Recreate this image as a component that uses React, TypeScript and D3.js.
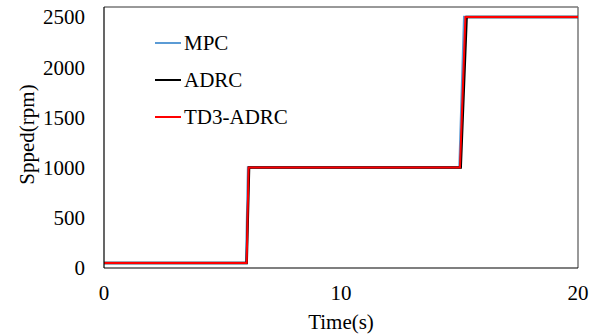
import React from "react";
import * as d3 from "d3";

// step response samples
const timeMPC = [0, 6.0, 6.08, 15.0, 15.2, 20];
const speedMPC = [50, 50, 1000, 1000, 2500, 2500];
const timeADRC = [0, 6.02, 6.12, 15.05, 15.3, 20];
const speedADRC = [50, 50, 1000, 1000, 2500, 2500];
const timeTD3 = [0, 6.02, 6.1, 15.02, 15.25, 20];
const speedTD3 = [50, 50, 1000, 1000, 2500, 2500];

const seriesNames = ["MPC", "ADRC", "TD3-ADRC"];
const seriesColors = ["#5b9bd5", "#000000", "#ff0000"];
const xTicks = [0, 10, 20];
const yTicks = [0, 500, 1000, 1500, 2000, 2500];

const W = 597;
const H = 335;
const m = { left: 104, right: 19, top: 7, bottom: 67 };

const font = "Liberation Serif";

const App: React.FC = () => {
  const x = d3.scaleLinear().domain([0, 20]).range([m.left, W - m.right]);
  const y = d3.scaleLinear().domain([0, 2600]).range([H - m.bottom, m.top]);
  const line = d3
    .line<[number, number]>()
    .x((d) => x(d[0]))
    .y((d) => y(d[1]));

  const series = [
    timeMPC.map((t, i) => [t, speedMPC[i]] as [number, number]),
    timeADRC.map((t, i) => [t, speedADRC[i]] as [number, number]),
    timeTD3.map((t, i) => [t, speedTD3[i]] as [number, number]),
  ];

  const ts = { fontFamily: font, fontSize: 21 };

  return (
    <svg
      width={W}
      height={H}
      style={{ position: "absolute", left: 0, top: 0, background: "#fff" }}
    >
      {/* frame */}
      <line x1={m.left} x2={W - m.right} y1={m.top} y2={m.top} stroke="#333" strokeWidth={1} />
      <line x1={W - m.right} x2={W - m.right} y1={m.top} y2={H - m.bottom} stroke="#777" strokeWidth={1.5} />

      {series.map((s, i) => (
        <path
          key={seriesNames[i]}
          d={line(s) || ""}
          fill="none"
          stroke={seriesColors[i]}
          strokeWidth={i === 2 ? 2 : 2.5}
        />
      ))}

      {/* axes */}
      <line x1={m.left} x2={m.left} y1={m.top} y2={H - m.bottom} stroke="#000" strokeWidth={1.2} />
      <line x1={m.left} x2={W - m.right} y1={H - m.bottom} y2={H - m.bottom} stroke="#000" strokeWidth={1.2} />

      {yTicks.map((t) => (
        <text key={t} x={m.left - 19} y={y(t)} dy="0.35em" textAnchor="end" style={ts}>
          {t}
        </text>
      ))}
      {xTicks.map((t) => (
        <text key={t} x={x(t)} y={H - m.bottom + 25} dy="0.35em" textAnchor="middle" style={ts}>
          {t}
        </text>
      ))}

      <text x={(m.left + W - m.right) / 2} y={H - 6} textAnchor="middle" style={ts}>
        Time(s)
      </text>
      <text
        transform={`translate(34,${(m.top + H - m.bottom) / 2 - 3}) rotate(-90)`}
        textAnchor="middle"
        style={ts}
      >
        Spped(rpm)
      </text>

      {/* legend */}
      {seriesNames.map((n, i) => (
        <g key={n} transform={`translate(155,${43 + i * 37})`}>
          <line x1={0} x2={26} y1={0} y2={0} stroke={seriesColors[i]} strokeWidth={2} />
          <text x={29} y={0} dy="0.35em" style={ts}>
            {n}
          </text>
        </g>
      ))}
    </svg>
  );
};

export default App;
